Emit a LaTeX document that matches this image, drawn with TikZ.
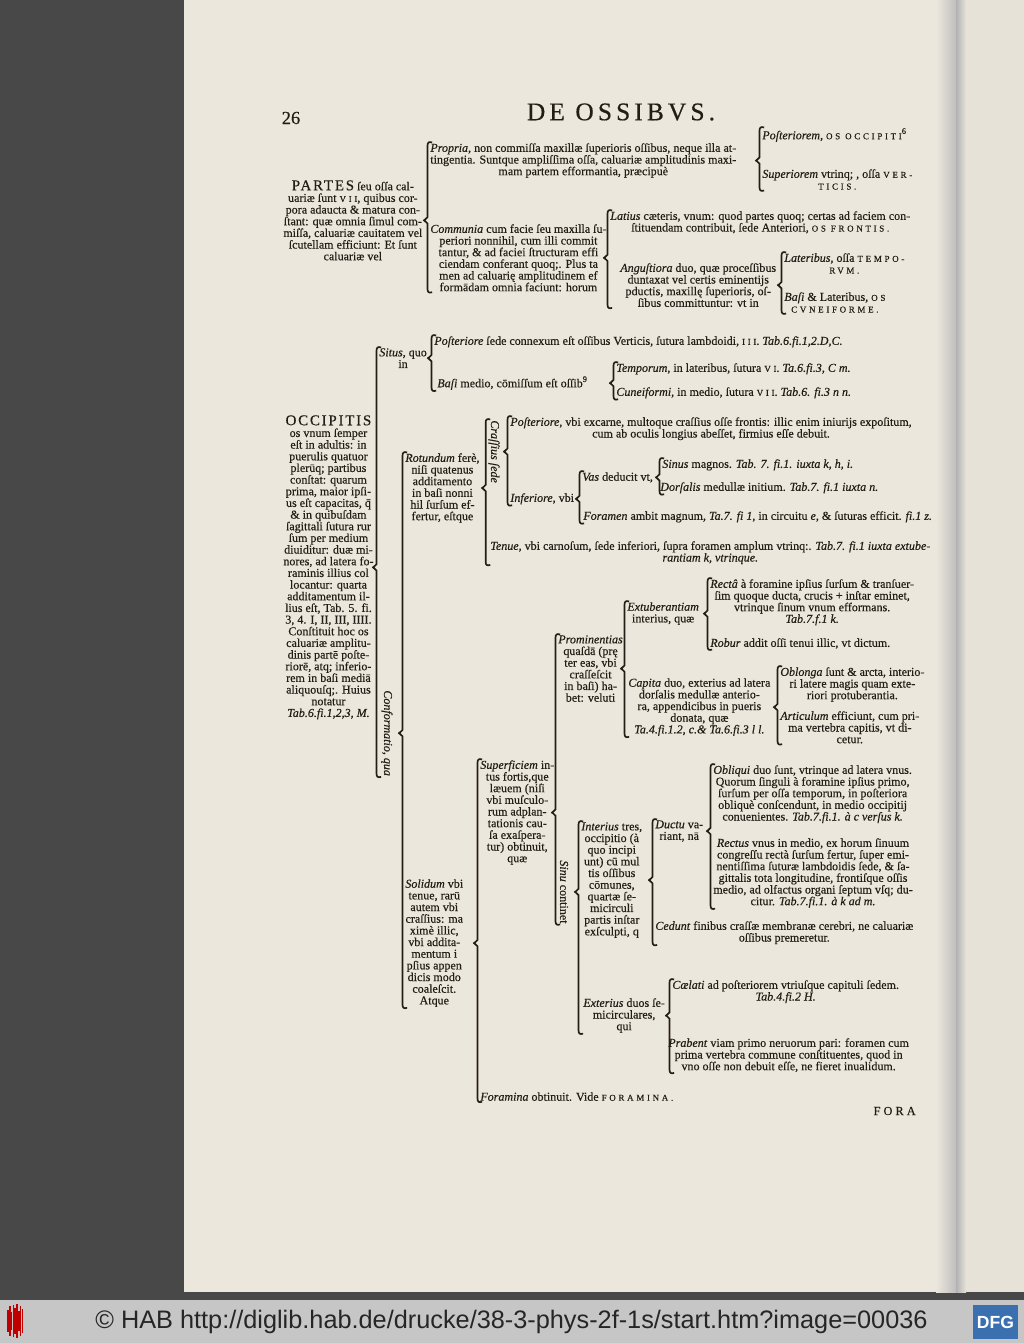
\documentclass[tikz,border=0pt]{standalone}
\usepackage{fontspec}
\setmainfont{Liberation Serif}[FakeBold=0.4]
\newfontfamily\bannerfont{Liberation Sans}
\usepackage{xcolor}
\usepackage{tikz}
\usetikzlibrary{calc}
\definecolor{ink}{HTML}{231D17}
\definecolor{paper}{HTML}{ECE7DC}
\definecolor{paperb}{HTML}{E6E2D8}
\definecolor{scanbed}{HTML}{484848}
\definecolor{banner}{HTML}{C6C6C6}
\definecolor{dfgblue}{HTML}{3A6FB0}

\newcommand\kw[1]{\textit{#1}}
\newcommand\cp[1]{{\fontsize{5.1}{6}\selectfont\addfontfeature{LetterSpace=30}#1}}
\newcommand\cpbig[1]{{\fontsize{8.5}{8}\selectfont\addfontfeature{LetterSpace=12}#1}}
\newcommand\brk[4][1.4pt]{%
  \draw[brace] let \p1=#3, \p2=#4, \p3=#2 in
    (\x1-#1+2.6pt,\y1+0.3pt) .. controls (\x1-#1+0.8pt,\y1+0.9pt) and (\x1-#1,\y1+0.3pt) .. (\x1-#1,\y1-1.4pt)
    -- (\x1-#1,\y3+1.8pt) -- (\x1-#1-1.9pt,\y3) -- (\x1-#1,\y3-1.8pt)
    -- (\x1-#1,\y2+1.4pt) .. controls (\x1-#1,\y2-0.3pt) and (\x1-#1+0.8pt,\y2-0.9pt) .. (\x1-#1+2.6pt,\y2-0.3pt);
  \fill[ink] let \p1=#3, \p3=#2 in (\x1-#1-1.9pt,\y3) circle[radius=0.7pt];
}

\begin{document}
\begin{tikzpicture}[x=0.02cm,y=-0.02cm,
  txt/.style={inner sep=0pt, anchor=north west, align=center, text=ink,
    font=\fontsize{6.85}{6.64}\selectfont},
  side/.style={txt, rotate=-90, anchor=west},
  brace/.style={draw=ink, line width=0.95pt, line join=miter}]
\useasboundingbox (0,0) rectangle (1024,1343);
\fill[scanbed] (0,0) rectangle (1024,1300);
\fill[paper] (184,0) rectangle (956,1292);
\shade[left color=paper, right color=black!25] (936,0) rectangle (956,1292);
\fill[paperb] (956,0) rectangle (1024,1292);
\shade[left color=black!30, right color=paperb] (956,0) rectangle (966,1292);
\fill[banner] (0,1300) rectangle (1024,1343);

\node[txt, anchor=center, font=\fontsize{10.5}{11}\selectfont] (folio) at (291,118) {26};
\node[txt, anchor=center, font=\fontsize{14.5}{15}\selectfont\addfontfeature{LetterSpace=16}] (title) at (621,112) {DE OSSIBVS.};

\node[txt] (partes) at (283,180) {\cpbig{PARTES} ſeu oſſa cal-\\ uariæ ſunt \cp{VII}, quibus cor-\\ pora adaucta \& matura con-\\ ſtant: quæ omnia ſimul com-\\ miſſa, caluariæ cauitatem vel\\ ſcutellam efficiunt: Et ſunt\\ caluariæ vel};
\node[txt] (propria) at (430,143) {\kw{Propria}, non commiſſa maxillæ ſuperioris oſſibus, neque illa at-\\ tingentia. Suntque ampliſſima oſſa, caluariæ amplitudinis maxi-\\ mam partem efformantia, præcipuè};
\node[txt] (posteriorem) at (762,128) {\kw{Poſteriorem}, \cp{OS OCCIPITI}\textsuperscript{6}};
\node[txt] (superiorem) at (762,169) {\kw{Superiorem} vtrinq; , oſſa \cp{VER-}\\ \cp{TICIS.}};
\node[txt] (communia) at (430,224) {\kw{Communia} cum facie ſeu maxilla ſu-\\ periori nonnihil, cum illi commit\\ tantur, \& ad faciei ſtructuram effi\\ ciendam conferant quoq;. Plus ta\\ men ad caluarię amplitudinem ef\\ formādam omnia faciunt: horum};
\node[txt] (latius) at (610,211) {\kw{Latius} cæteris, vnum: quod partes quoq; certas ad faciem con-\\ ſtituendam contribuit, ſede Anteriori, \cp{OS FRONTIS.}};
\node[txt] (angustiora) at (620,263) {\kw{Anguſtiora} duo, quæ proceſſibus\\ duntaxat vel certis eminentijs\\ pductis, maxillę ſuperioris, oſ-\\ ſibus committuntur: vt in};
\node[txt] (lateribus) at (784,253) {\kw{Lateribus}, oſſa \cp{TEMPO-}\\ \cp{RVM.}};
\node[txt] (basi) at (784,292) {\kw{Baſi} \& Lateribus, \cp{OS}\\ \cp{CVNEIFORME.}};

\node[txt] (occipitis) at (283,415) {\cpbig{OCCIPITIS}\\ os vnum ſemper\\ eſt in adultis: in\\ puerulis quatuor\\ plerūq; partibus\\ conſtat: quarum\\ prima, maior ipſi-\\ us eſt capacitas, q̄\\ \& in quibuſdam\\ ſagittali ſutura rur\\ ſum per medium\\ diuiditur: duæ mi-\\ nores, ad latera fo-\\ raminis illius col\\ locantur: quarta\\ additamentum il-\\ lius eſt, Tab. 5. fi.\\ 3, 4. I, II, III, IIII.\\ Conſtituit hoc os\\ caluariæ amplitu-\\ dinis partē poſte-\\ riorē, atq; inferio-\\ rem in baſi mediā\\ aliquouſq;. Huius\\ notatur\\ \kw{Tab.6.fi.1,2,3, M.}};
\node[txt] (situs) at (379,348) {\kw{Situs}, quo\\ in};
\node[txt] (posteriore) at (434,336) {\kw{Poſteriore} ſede connexum eſt oſſibus Verticis, ſutura lambdoidi, \cp{III}. \kw{Tab.6.fi.1,2.D,C.}};
\node[txt] (basimedio) at (437,376) {\kw{Baſi} medio, cōmiſſum eſt oſſib\textsuperscript{9}};
\node[txt] (temporum) at (616,363) {\kw{Temporum}, in lateribus, ſutura \cp{VI}. \kw{Ta.6.fi.3, C m.}};
\node[txt] (cuneiformi) at (616,387) {\kw{Cuneiformi}, in medio, ſutura \cp{VII}. \kw{Tab.6. fi.3 n n.}};
\node[side] (conformatio) at (387,690) {\kw{Conformatio, qua}};

\node[txt] (rotundum) at (405,453) {\kw{Rotundum} ferè,\\ niſi quatenus\\ additamento\\ in baſi nonni\\ hil ſurſum ef-\\ fertur, eſtque};
\node[side] (crassius) at (494,420) {\kw{Craſſius ſede}};
\node[txt] (posteriorevbi) at (510,417) {\kw{Poſteriore}, vbi excarne, multoque craſſius oſſe frontis: illic enim iniurijs expoſitum,\\ cum ab oculis longius abeſſet, firmius eſſe debuit.};
\node[txt] (inferiore) at (510,493) {\kw{Inferiore}, vbi};
\node[txt] (vas) at (582,472) {\kw{Vas} deducit vt,};
\node[txt] (sinus) at (662,459) {\kw{Sinus} magnos. \kw{Tab. 7. fi.1. iuxta k, h, i.}};
\node[txt] (dorsalis) at (660,482) {\kw{Dorſalis} medullæ initium. \kw{Tab.7. fi.1 iuxta n.}};
\node[txt] (foramen) at (583,511) {\kw{Foramen} ambit magnum, \kw{Ta.7. fi 1}, in circuitu \kw{e}, \& ſuturas efficit. \kw{fi.1 z.}};
\node[txt] (tenue) at (490,541) {\kw{Tenue}, vbi carnoſum, ſede inferiori, ſupra foramen amplum vtrinq:. \kw{Tab.7. fi.1 iuxta extube-}\\ \kw{rantiam k, vtrinque.}};

\node[txt] (solidum) at (405,879) {\kw{Solidum} vbi\\ tenue, rarū\\ autem vbi\\ craſſius: ma\\ ximè illic,\\ vbi addita-\\ mentum i\\ pſius appen\\ dicis modo\\ coaleſcit.\\ Atque};
\node[txt] (superficiem) at (480,760) {\kw{Superficiem} in-\\ tus fortis,que\\ læuem (niſi\\ vbi muſculo-\\ rum adplan-\\ tationis cau-\\ ſa exaſpera-\\ tur) obtinuit,\\ quæ};
\node[txt] (prominentias) at (558,635) {\kw{Prominentias}\\ quaſdā (prę\\ ter eas, vbi\\ craſſeſcit\\ in baſi) ha-\\ bet: veluti};
\node[txt] (extuberantiam) at (627,602) {\kw{Extuberantiam}\\ interius, quæ};
\node[txt] (recta) at (710,579) {\kw{Rectâ} à foramine ipſius ſurſum \& tranſuer-\\ ſim quoque ducta, crucis + inſtar eminet,\\ vtrinque ſinum vnum efformans.\\ \kw{Tab.7.f.1 k.}};
\node[txt] (robur) at (710,638) {\kw{Robur} addit oſſi tenui illic, vt dictum.};
\node[txt] (capita) at (628,678) {\kw{Capita} duo, exterius ad latera\\ dorſalis medullæ anterio-\\ ra, appendicibus in pueris\\ donata, quæ\\ \kw{Ta.4.fi.1.2, c.\& Ta.6.fi.3 l l.}};
\node[txt] (oblonga) at (780,667) {\kw{Oblonga} ſunt \& arcta, interio-\\ ri latere magis quam exte-\\ riori protuberantia.};
\node[txt] (articulum) at (780,711) {\kw{Articulum} efficiunt, cum pri-\\ ma vertebra capitis, vt di-\\ cetur.};

\node[side] (sinu) at (564,860) {\kw{Sinu} continet};
\node[txt] (interius) at (581,822) {\kw{Interius} tres,\\ occipitio (à\\ quo incipi\\ unt) cū mul\\ tis oſſibus\\ cōmunes,\\ quartæ ſe-\\ micirculi\\ partis inſtar\\ exſculpti, q};
\node[txt] (ductu) at (655,820) {\kw{Ductu} va-\\ riant, nā};
\node[txt] (obliqui) at (713,765) {\kw{Obliqui} duo ſunt, vtrinque ad latera vnus.\\ Quorum ſinguli à foramine ipſius primo,\\ ſurſum per oſſa temporum, in poſteriora\\ obliquè conſcendunt, in medio occipitij\\ conuenientes. \kw{Tab.7.fi.1. à c verſus k.}};
\node[txt] (rectus) at (713,838) {\kw{Rectus} vnus in medio, ex horum ſinuum\\ congreſſu rectà ſurſum fertur, ſuper emi-\\ nentiſſima ſuturæ lambdoidis ſede, \& ſa-\\ gittalis tota longitudine, frontiſque oſſis\\ medio, ad olfactus organi ſeptum vſq; du-\\ citur. \kw{Tab.7.fi.1. à k ad m.}};
\node[txt] (cedunt) at (655,921) {\kw{Cedunt} finibus craſſæ membranæ cerebri, ne caluariæ\\ oſſibus premeretur.};
\node[txt] (exterius) at (583,998) {\kw{Exterius} duos ſe-\\ micirculares,\\ qui};
\node[txt] (caelati) at (672,980) {\kw{Cælati} ad poſteriorem vtriuſque capituli ſedem.\\ \kw{Tab.4.fi.2 H.}};
\node[txt] (prabent) at (668,1038) {\kw{Prabent} viam primo neruorum pari: foramen cum\\ prima vertebra commune conſtituentes, quod in\\ vno oſſe non debuit eſſe, ne fieret inualidum.};
\node[txt] (foramina) at (480,1092) {\kw{Foramina} obtinuit. Vide \cp{FORAMINA.}};
\node[txt, anchor=east, font=\fontsize{7}{7}\selectfont\addfontfeature{LetterSpace=25}] (catch) at (916,1111) {FORA};

\brk{(partes.east)}{(propria.north west)}{(communia.south west)}
\brk{(propria.east)}{(posteriorem.north west)}{(superiorem.south west)}
\brk{(communia.east)}{(latius.north west)}{(angustiora.south west)}
\brk{(angustiora.east)}{(lateribus.north west)}{(basi.south west)}
\brk{(occipitis.east)}{(situs.north west)}{(conformatio.south east)}
\brk{(situs.east)}{(posteriore.north west)}{(basimedio.south west)}
\brk{(basimedio.east)}{(temporum.north west)}{(cuneiformi.south west)}
\brk{(conformatio.north)}{(rotundum.north west)}{(solidum.south west)}
\brk{(rotundum.east)}{(crassius.south west)}{(tenue.south west)}
\brk{(crassius.north)}{(posteriorevbi.north west)}{(inferiore.south west)}
\brk{(inferiore.east)}{(vas.north west)}{(foramen.south west)}
\brk{(vas.east)}{(sinus.north west)}{(dorsalis.south west)}
\brk{(solidum.east)}{(superficiem.north west)}{(foramina.south west)}
\brk{(superficiem.east)}{(prominentias.north west)}{(sinu.south east)}
\brk{(prominentias.east)}{(extuberantiam.north west)}{(capita.south west)}
\brk{(extuberantiam.east)}{(recta.north west)}{(robur.south west)}
\brk{(capita.east)}{(oblonga.north west)}{(articulum.south west)}
\brk{(sinu.north)}{(interius.north west)}{(exterius.south west)}
\brk{(interius.east)}{(ductu.north west)}{(cedunt.south west)}
\brk{(ductu.east)}{(obliqui.north west)}{(rectus.south west)}
\brk{(exterius.east)}{(caelati.north west)}{(prabent.south west)}

\foreach \i/\h in {0/11,1/15,2/9,3/16,4/13,5/17,6/10,7/15,8/12}
  \draw[red!75!black, line width=0.9pt] (8+\i*1.8,1321-\h) -- (8+\i*1.8,1321+\h);
\node[txt, anchor=west, text=black!85, font=\bannerfont\fontsize{14.4}{15}\selectfont] (credit) at (95,1322) {© HAB http://diglib.hab.de/drucke/38-3-phys-2f-1s/start.htm?image=00036};
\fill[dfgblue] (973,1305) rectangle (1018,1339);
\node[txt, anchor=center, text=white, font=\bannerfont\bfseries\fontsize{10}{10}\selectfont] (dfg) at (995.5,1322) {DFG};
\end{tikzpicture}
\end{document}
